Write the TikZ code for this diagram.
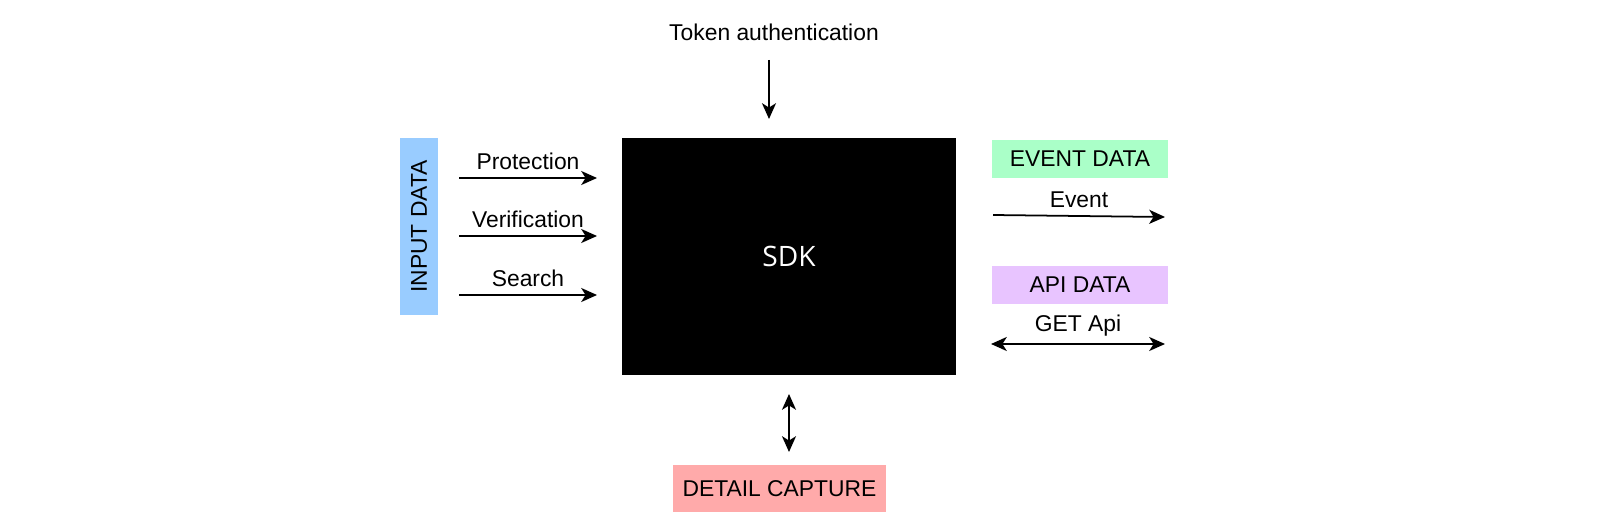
\documentclass[tikz,border=0pt]{standalone}
\usepackage{fontspec}
\setmainfont{Liberation Sans}
\newfontfamily\sdkfont{Open Sans}
\usepackage{tikz}
\usetikzlibrary{arrows.meta}
\usetikzlibrary{positioning}
\definecolor{inputblue}{RGB}{153,204,255}
\definecolor{eventgreen}{RGB}{170,255,200}
\definecolor{apipurple}{RGB}{232,196,255}
\definecolor{capturepink}{RGB}{255,170,170}
\tikzset{
	>={Stealth[length=9pt,width=8pt,inset=2.5pt]},
    databox/.style={fill=#1, draw=none, inner sep=0pt, font=\fontsize{13}{15}\selectfont},
    flow/.style={draw=black, line width=1pt, ->},
    flowboth/.style={draw=black, line width=1pt, <->},
    flowlabel/.style={font=\fontsize{13}{15}\selectfont, inner sep=1pt},
}

\begin{document}
\begin{tikzpicture}[x=0.02cm, y=-0.02cm]
	\useasboundingbox (0,0) rectangle (1600,530);
%
	\node[fill=black, minimum width=334*0.02cm, minimum height=237*0.02cm, inner sep=0pt,
		text=white, font=\sdkfont\fontsize{16}{18}\selectfont] (sdk) at (789,256.5) {SDK};
	\node[flowlabel] (token) at (774,32) {Token authentication};
%
	\node[databox=inputblue, minimum width=38*0.02cm, minimum height=177*0.02cm] (input) at (419,226.5) {};
	\node[flowlabel, rotate=90] at (input) {INPUT DATA};
	\node[databox=eventgreen, minimum width=176*0.02cm, minimum height=38*0.02cm] (event) at (1080,159) {EVENT DATA};
	\node[databox=apipurple, minimum width=176*0.02cm, minimum height=38*0.02cm] (api) at (1080,285) {API DATA};
	\node[databox=capturepink, minimum width=213*0.02cm, minimum height=47*0.02cm] (capture) at (779.5,488.5) {DETAIL CAPTURE};
%
	\coordinate (t1) at (769,60);
	\coordinate (t2) at (769,119);
	\coordinate (p1) at (459,178);
	\coordinate (p2) at (597,178);
	\coordinate (v1) at (459,236);
	\coordinate (v2) at (597,236);
	\coordinate (s1) at (459,295);
	\coordinate (s2) at (597,295);
	\coordinate (e1) at (993,215);
	\coordinate (e2) at (1165,217);
	\coordinate (g1) at (991,344);
	\coordinate (g2) at (1165,344);
	\coordinate (d1) at (789,394);
	\coordinate (d2) at (789,452);
%
	\draw[flow] (t1) -- (t2);
	\draw[flow] (p1) -- node[flowlabel, above=3pt] {Protection} (p2);
	\draw[flow] (v1) -- node[flowlabel, above=3pt] {Verification} (v2);
	\draw[flow] (s1) -- node[flowlabel, above=3pt] {Search} (s2);
	\draw[flow] (e1) -- node[flowlabel, above=3pt] {Event} (e2);
	\draw[flowboth] (g1) -- node[flowlabel, above=3pt] {GET Api} (g2);
	\draw[flowboth] (d1) -- (d2);
 \end{tikzpicture}
\end{document}
